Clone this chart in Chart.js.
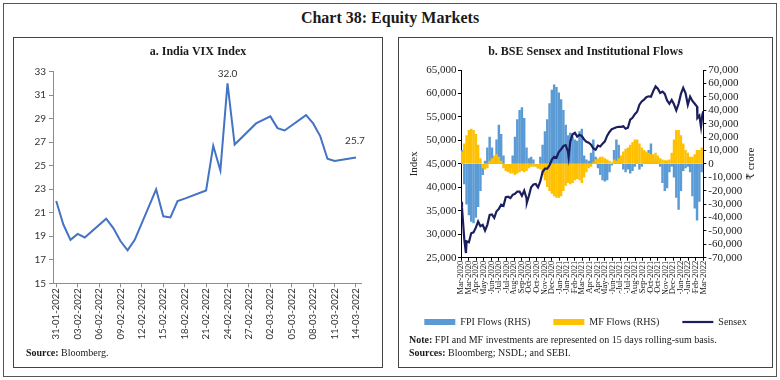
<!DOCTYPE html>
<html>
<head>
<meta charset="utf-8">
<script src="https://cdn.jsdelivr.net/npm/chart.js@4.4.1/dist/chart.umd.min.js"></script>
<style>
html,body{margin:0;padding:0;background:#fff;}
body{width:780px;height:380px;position:relative;overflow:hidden;font-family:"Liberation Serif","DejaVu Serif",serif;color:#1a1a1a;}
.frame{position:absolute;left:3px;top:3px;width:774px;height:374px;border:1px solid #555;box-sizing:border-box;}
.maintitle{position:absolute;left:0;top:8px;width:780px;text-align:center;font-weight:bold;font-size:16px;line-height:20px;}
.panel{position:absolute;top:37px;height:331px;border:1px solid #444;box-sizing:border-box;}
.ptitle{position:absolute;top:6px;left:0;width:100%;text-align:center;font-weight:bold;font-size:12px;line-height:14px;}
canvas{position:absolute;left:0;top:0;}
.note{position:absolute;font-size:10px;line-height:12px;white-space:nowrap;}
</style>
</head>
<body>
<div class="frame"></div>
<div class="maintitle">Chart 38: Equity Markets</div>

<div class="panel" style="left:13px;width:370px;">
  <canvas id="vix" width="368" height="329"></canvas>
  <div class="ptitle">a. India VIX Index</div>
  <div class="note" style="left:12px;top:309px;"><b>Source:</b> Bloomberg.</div>
</div>

<div class="panel" style="left:398px;width:375px;">
  <canvas id="sensex" width="373" height="329"></canvas>
  <div class="ptitle">b. BSE Sensex and Institutional Flows</div>
  <div class="note" style="left:10px;top:296px;"><b>Note:</b> FPI and MF investments are represented on 15 days rolling-sum basis.</div>
  <div class="note" style="left:10px;top:309px;"><b>Sources:</b> Bloomberg; NSDL; and SEBI.</div>
</div>

<script>
// ---------- Panel a: India VIX ----------
// day offsets from 31-01-2022 (trading days only)
const vixDays = [0,1,2,3,4,7,8,9,10,11,14,15,16,17,18,21,22,23,24,25,28,30,31,32,35,36,37,38,39,42];
const vixValues = [22.0,20.0,18.7,19.2,18.9,20.5,19.7,18.6,17.8,18.7,23.0,20.7,20.6,22.0,22.2,22.9,26.7,24.6,32.0,26.8,28.6,29.2,28.2,28.0,29.3,28.6,27.5,25.6,25.4,25.7];
const vixTickDays = [0,3,6,9,12,15,18,21,24,27,30,33,36,39,42];
const vixTickLabels = ['31-01-2022','03-02-2022','06-02-2022','09-02-2022','12-02-2022','15-02-2022','18-02-2022','21-02-2022','24-02-2022','27-02-2022','02-03-2022','05-03-2022','08-03-2022','11-03-2022','14-03-2022'];

// ---------- Panel b: Sensex and flows ----------
// day offsets from 08-Mar-2020
const sensexTickDays = [0,23,46,69,92,115,138,161,184,207,230,253,276,299,322,345,368,391,414,437,460,483,506,529,552,575,598,621,644,667,690,713,736];
const sensexTickLabels = ['08-Mar-2020','31-Mar-2020','23-Apr-2020','16-May-2020','08-Jun-2020','01-Jul-2020','24-Jul-2020','16-Aug-2020','08-Sep-2020','01-Oct-2020','24-Oct-2020','16-Nov-2020','09-Dec-2020','01-Jan-2021','24-Jan-2021','16-Feb-2021','11-Mar-2021','03-Apr-2021','26-Apr-2021','19-May-2021','11-Jun-2021','04-Jul-2021','27-Jul-2021','19-Aug-2021','11-Sep-2021','04-Oct-2021','27-Oct-2021','19-Nov-2021','12-Dec-2021','04-Jan-2022','27-Jan-2022','19-Feb-2022','14-Mar-2022'];

const sensexDays = [
  0,3,10,15,17,24,31,38,45,52,
  59,66,73,80,87,94,101,108,115,122,
  129,136,143,150,157,164,171,178,185,192,
  199,200,206,213,220,227,234,241,248,255,
  262,269,276,283,290,297,304,311,318,325,
  327,332,339,346,353,360,367,374,381,388,
  395,402,409,416,423,430,437,444,451,458,
  465,472,479,486,493,500,507,514,521,528,
  535,542,549,556,563,570,577,584,591,598,
  605,612,619,626,633,640,647,654,661,668,
  675,682,689,696,703,710,717,718,724,729,
  733,736];
const sensexValues = [
  36900,35700,28900,26000,28500,28300,30200,30400,31400,32700,
  31700,32000,30800,32000,34100,34200,33500,34900,35400,36300,
  36050,37900,38000,37700,38400,38600,39100,39100,38200,39300,
  37700,36700,38100,40000,40600,40700,40000,41300,43300,44000,
  44000,44700,45900,46500,46300,47500,48100,48800,49000,47600,
  46500,49800,51300,51600,50800,51200,50900,50200,49700,49500,
  49100,48300,48000,48900,48700,49300,49800,51000,51800,52400,
  52600,52800,52900,52900,53000,52500,52700,54400,54800,55600,
  56100,57600,58300,58700,59200,59400,59300,60500,61500,61000,
  60100,60400,59900,58500,57800,58600,57700,56400,57800,59900,
  61200,60100,57600,59300,58400,57800,57200,54800,55300,52900,
  55400,56200];

const flowDays = [
  3,10,17,24,31,38,45,52,59,66,
  73,80,87,94,101,108,115,122,129,136,
  143,150,157,164,171,178,185,192,199,206,
  213,220,227,234,241,248,255,262,269,276,
  283,290,297,304,311,318,325,332,339,346,
  353,360,367,374,381,388,395,402,409,416,
  423,430,437,444,451,458,465,472,479,486,
  493,500,507,514,521,528,535,542,549,556,
  563,570,577,584,591,598,605,612,619,626,
  633,640,647,654,661,668,675,682,689,696,
  703,710,717,724,731];
const fpiFlows = [
  10000,-15000,-30000,-38000,-43000,-44000,-40000,-32000,-20000,-8000,
  2000,12000,20000,12000,3000,18000,29000,22000,6000,-3000,
  -5000,-3000,6000,20000,33000,40000,42000,34000,12000,4000,
  5000,3000,-1000,-3000,5000,14000,24000,33000,45000,55000,
  59000,57000,53000,48000,40000,29000,21000,23000,20000,18000,
  17000,24000,26000,6000,3000,2000,8000,18000,5000,-3000,
  -8000,-12000,-13000,-12000,-6000,-1000,10000,18000,14000,3000,
  -4000,-6000,-4000,-7000,-5000,-2000,2000,-4000,-2000,2000,
  6000,10000,15000,4000,2000,4000,-2000,-14000,-20000,-18000,
  -6000,-2000,-10000,-25000,-34000,-20000,-5000,-3000,-2000,-6000,
  -24000,-33000,-42000,-28000,-6000];
const mfFlows = [
  9000,15000,21000,25000,26000,25000,22000,14000,4000,-3000,
  -4000,-3000,2000,4000,6000,7000,5000,2000,-3000,-5000,
  -6000,-7000,-7000,-8000,-7000,-6000,-5000,-6000,-5000,-3000,
  -2000,-2000,-2000,-3000,-4000,-8000,-12000,-17000,-20000,-22000,
  -24000,-25000,-25000,-24000,-20000,-16000,-14000,-15000,-14000,-12000,
  -11000,-12000,-14000,-10000,-6000,-3000,-2000,1000,3000,4000,
  5000,5000,4000,3000,2000,1000,3000,2000,4000,6000,
  9000,11000,12000,14000,16000,18000,18000,15000,12000,10000,
  9000,8000,7000,7000,8000,6000,4000,3000,2500,2500,
  3000,8000,18000,25000,25000,21000,15000,10000,8000,5000,
  5000,7000,10000,10000,12000];

const SERIF = '"Liberation Serif", "DejaVu Serif", serif';
const SANS = 'Lato, "Liberation Sans", sans-serif';
const fmt = v => Number(v).toLocaleString('en-US');

// data labels on VIX (peak and last value)
const vixLabelPlugin = {
  id: 'vixLabels',
  afterDatasetsDraw(chart) {
    const meta = chart.getDatasetMeta(0);
    const ctx = chart.ctx;
    const peak = vixValues.indexOf(Math.max(...vixValues));
    const last = vixValues.length - 1;
    const items = [[peak, 0, 10], [last, -1, 17]];
    ctx.save();
    ctx.font = '10px ' + SANS;
    ctx.fillStyle = '#333';
    ctx.textAlign = 'center';
    ctx.textBaseline = 'middle';
    items.forEach(([i, dx, dy]) => {
      const p = meta.data[i];
      ctx.fillText(vixValues[i].toFixed(1), p.x + dx, p.y - dy);
    });
    ctx.restore();
  }
};

new Chart(document.getElementById('vix'), {
  type: 'line',
  data: {
    datasets: [{
      label: 'India VIX',
      data: vixDays.map((d, i) => ({x: d, y: vixValues[i]})),
      borderColor: '#4472C4',
      borderWidth: 2,
      pointRadius: 0,
      tension: 0,
      fill: false
    }]
  },
  options: {
    responsive: false,
    animation: false,
    events: [],
    layout: {padding: {left: 0, top: 33.7, right: 20.3, bottom: 23.7}},
    plugins: {legend: {display: false}, tooltip: {enabled: false}},
    scales: {
      x: {
        type: 'linear', min: -0.45, max: 42.8,
        afterBuildTicks: s => { s.ticks = vixTickDays.map(v => ({value: v})); },
        afterFit: s => { s.height = 60; },
        ticks: {autoSkip: false, minRotation: 90, maxRotation: 90, padding: 1, color: '#333',
                font: {family: SANS, size: 9.5}, callback: (v, i) => vixTickLabels[i]},
        grid: {drawOnChartArea: false, drawTicks: true, tickLength: 4, color: '#8c8c8c'},
        border: {color: '#8c8c8c'}
      },
      y: {
        min: 15, max: 33,
        afterFit: s => { s.width = 39; },
        ticks: {stepSize: 2, autoSkip: false, color: '#333', padding: 3, font: {family: SANS, size: 10}},
        grid: {drawOnChartArea: false, drawTicks: true, tickLength: 4, color: '#8c8c8c'},
        border: {color: '#8c8c8c'}
      }
    }
  },
  plugins: [vixLabelPlugin]
});

// right axis title, reading bottom-to-top
const crorePlugin = {
  id: 'croreTitle',
  afterDraw(chart) {
    const s = chart.scales.y1;
    const ctx = chart.ctx;
    ctx.save();
    ctx.translate(s.right - 20.5, (s.top + s.bottom) / 2);
    ctx.rotate(-Math.PI / 2);
    ctx.font = '11px ' + SERIF;
    ctx.fillStyle = '#222';
    ctx.textAlign = 'center';
    ctx.textBaseline = 'middle';
    ctx.fillText('\u20B9 crore', 0, 0);
    ctx.restore();
  }
};

new Chart(document.getElementById('sensex'), {
  type: 'bar',
  data: {
    datasets: [
      {
        type: 'line', label: 'Sensex', yAxisID: 'y', order: 0,
        data: sensexDays.map((d, i) => ({x: d, y: sensexValues[i]})),
        borderColor: '#1b1f5e', backgroundColor: '#1b1f5e', borderWidth: 2.2,
        pointRadius: 0, pointStyle: 'line', tension: 0, fill: false
      },
      {
        label: 'MF Flows (RHS)', yAxisID: 'y1', order: 1, grouped: false,
        data: flowDays.map((d, i) => ({x: d, y: mfFlows[i]})),
        backgroundColor: '#FFC000', borderWidth: 0, barThickness: 1.8, pointStyle: 'rect'
      },
      {
        label: 'FPI Flows (RHS)', yAxisID: 'y1', order: 2, grouped: false,
        data: flowDays.map((d, i) => ({x: d, y: fpiFlows[i]})),
        backgroundColor: '#5B9BD5', borderWidth: 0, barThickness: 1.8, pointStyle: 'rect'
      }
    ]
  },
  options: {
    responsive: false,
    animation: false,
    events: [],
    layout: {padding: {left: 0, top: 32, right: 0, bottom: 30}},
    plugins: {
      tooltip: {enabled: false},
      legend: {
        position: 'bottom', reverse: true,
        labels: {usePointStyle: true, pointStyleWidth: 31, boxHeight: 6, padding: 23,
                 color: '#222', font: {family: SERIF, size: 10}}
      }
    },
    scales: {
      x: {
        type: 'linear', min: 0, max: 736, offset: false,
        afterBuildTicks: s => { s.ticks = sensexTickDays.map(v => ({value: v})); },
        afterFit: s => { s.height = 36.3; },
        ticks: {autoSkip: false, minRotation: 90, maxRotation: 90, padding: 0, color: '#111',
                font: {family: SERIF, size: 8.5}, callback: (v, i) => sensexTickLabels[i]},
        grid: {offset: false, drawOnChartArea: false, drawTicks: true, tickLength: 3, color: '#000'},
        border: {color: '#000'}
      },
      y: {
        position: 'left', min: 25000, max: 65000,
        afterFit: s => { s.width = 62; },
        ticks: {stepSize: 5000, autoSkip: false, padding: 1.5, color: '#222', font: {family: SERIF, size: 11}, callback: v => fmt(v)},
        grid: {drawOnChartArea: false, drawTicks: true, tickLength: 3, color: '#000'},
        border: {color: '#000'},
        title: {display: true, text: 'Index', color: '#222', font: {family: SERIF, size: 11}, padding: {top: 9, bottom: 0}}
      },
      y1: {
        position: 'right', min: -70000, max: 70000,
        afterFit: s => { s.width = 68.7; },
        ticks: {stepSize: 10000, autoSkip: false, padding: 2, color: '#222', font: {family: SERIF, size: 11}, callback: v => fmt(v)},
        grid: {drawOnChartArea: false, drawTicks: true, tickLength: 3, color: '#000'},
        border: {color: '#000'}
      }
    }
  },
  plugins: [crorePlugin]
});
</script>
</body>
</html>
